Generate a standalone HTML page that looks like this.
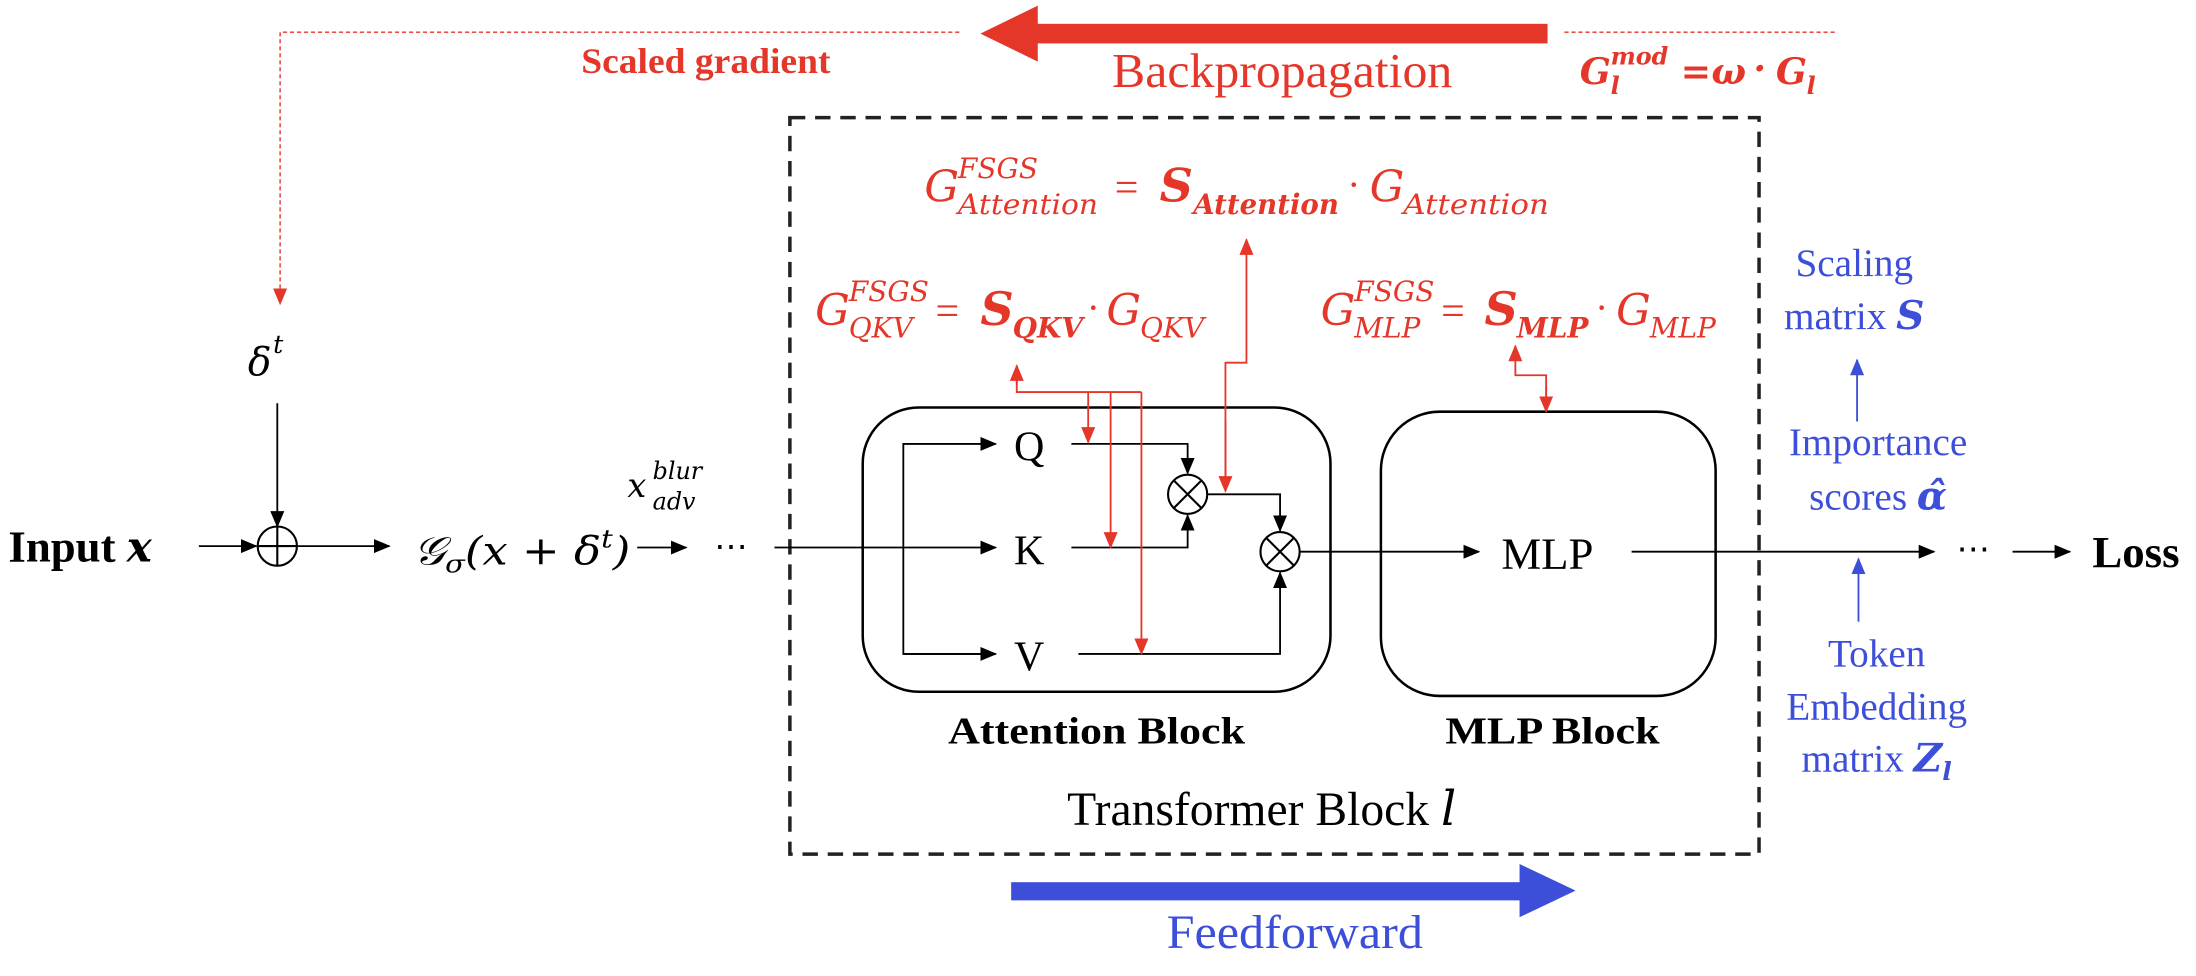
<!DOCTYPE html>
<html><head><meta charset="utf-8"><style>
html,body{margin:0;padding:0;background:#fff;}
svg{display:block;}
text{font-family:"Liberation Serif",serif;}
.m{font-family:"DejaVu Serif","Liberation Serif",serif;font-style:italic;}
.r{fill:#e5362a;}
.b{fill:#3d4fd9;}
</style></head><body>
<svg width="2196" height="976" viewBox="0 0 1568 697" preserveAspectRatio="none" xmlns="http://www.w3.org/2000/svg">
<defs>
<marker id="ak" markerUnits="userSpaceOnUse" markerWidth="12" markerHeight="10" refX="11" refY="5" orient="auto"><path d="M0,0 L12,5 L0,10 z" fill="#000"/></marker>
<marker id="ar" markerUnits="userSpaceOnUse" markerWidth="12" markerHeight="10" refX="11" refY="5" orient="auto"><path d="M0,0 L12,5 L0,10 z" fill="#e5362a"/></marker>
<marker id="ab" markerUnits="userSpaceOnUse" markerWidth="12" markerHeight="10" refX="11" refY="5" orient="auto"><path d="M0,0 L12,5 L0,10 z" fill="#3d4fd9"/></marker>
</defs>

<path d="M685,23 H200 V217" fill="none" stroke="#e5362a" stroke-width="1" stroke-dasharray="3,2" marker-end="url(#ar)"/>
<line x1="1117" y1="23" x2="1312" y2="23" stroke="#e5362a" stroke-width="1" stroke-dasharray="3,2"/>
<rect x="740" y="17" width="365" height="14" fill="#e5362a"/>
<polygon points="700,24 741,4 741,44" fill="#e5362a"/>
<text x="415" y="52" class="r" font-size="26" font-weight="bold" textLength="178" lengthAdjust="spacingAndGlyphs">Scaled gradient</text>
<text x="794" y="62" class="r" font-size="35" textLength="243" lengthAdjust="spacingAndGlyphs">Backpropagation</text>
<text class="m r" font-weight="bold" font-size="26" x="1128" y="60">G</text>
<text class="m r" font-weight="bold" font-size="17" x="1150" y="46">mod</text>
<text class="m r" font-weight="bold" font-size="17" x="1150" y="67">l</text>
<text class="m r" font-weight="bold" font-size="26" x="1200" y="60">=</text>
<text class="m r" font-weight="bold" font-size="26" x="1222" y="60">ω</text>
<text class="m r" font-weight="bold" font-size="26" x="1252" y="58">·</text>
<text class="m r" font-weight="bold" font-size="26" x="1268" y="60">G</text>
<text class="m r" font-weight="bold" font-size="17" x="1290" y="67">l</text>

<rect x="564" y="84" width="692" height="526" fill="none" stroke="#222" stroke-width="2.5" stroke-dasharray="11,7"/>

<text class="m r" font-size="31" x="660" y="144">G</text>
<text class="m r" font-size="20" x="684" y="127">FSGS</text>
<text class="m r" font-size="20" x="684" y="153" textLength="100" lengthAdjust="spacingAndGlyphs">Attention</text>
<text class="r" font-size="30" x="796" y="144">=</text>
<text class="m r" font-size="33" font-weight="bold" x="828" y="144">S</text>
<text class="m r" font-size="20" font-weight="bold" x="852" y="153" textLength="104" lengthAdjust="spacingAndGlyphs">Attention</text>
<text class="r" font-size="28" x="962" y="141">·</text>
<text class="m r" font-size="31" x="978" y="144">G</text>
<text class="m r" font-size="20" x="1002" y="153" textLength="104" lengthAdjust="spacingAndGlyphs">Attention</text>

<text class="m r" font-size="31" x="582" y="232">G</text>
<text class="m r" font-size="20" x="606" y="215">FSGS</text>
<text class="m r" font-size="20" x="606" y="241">QKV</text>
<text class="r" font-size="30" x="668" y="232">=</text>
<text class="m r" font-size="33" font-weight="bold" x="700" y="232">S</text>
<text class="m r" font-size="20" font-weight="bold" x="723" y="241">QKV</text>
<text class="r" font-size="28" x="776" y="229">·</text>
<text class="m r" font-size="31" x="790" y="232">G</text>
<text class="m r" font-size="20" x="814" y="241">QKV</text>

<text class="m r" font-size="31" x="943" y="232">G</text>
<text class="m r" font-size="20" x="967" y="215">FSGS</text>
<text class="m r" font-size="20" x="967" y="241">MLP</text>
<text class="r" font-size="30" x="1029" y="232">=</text>
<text class="m r" font-size="33" font-weight="bold" x="1060" y="232">S</text>
<text class="m r" font-size="20" font-weight="bold" x="1083" y="241">MLP</text>
<text class="r" font-size="28" x="1139" y="229">·</text>
<text class="m r" font-size="31" x="1154" y="232">G</text>
<text class="m r" font-size="20" x="1178" y="241">MLP</text>

<rect x="616" y="291" width="334" height="203" rx="40" fill="none" stroke="#000" stroke-width="1.8"/>
<rect x="986" y="294" width="239" height="203" rx="42" fill="none" stroke="#000" stroke-width="1.8"/>

<text x="6" y="401" font-size="32" font-weight="bold">Input <tspan class="m" font-size="30">x</tspan></text>
<line x1="142" y1="390" x2="183" y2="390" stroke="#000" stroke-width="1.3" marker-end="url(#ak)"/>
<circle cx="198" cy="390" r="14" fill="none" stroke="#000" stroke-width="1.5"/>
<line x1="184" y1="390" x2="212" y2="390" stroke="#000" stroke-width="1.5"/>
<line x1="198" y1="376" x2="198" y2="404" stroke="#000" stroke-width="1.5"/>
<text class="m" font-size="28" x="177" y="268">δ</text>
<text class="m" font-size="18" x="195" y="252">t</text>
<line x1="198" y1="288" x2="198" y2="376" stroke="#000" stroke-width="1.3" marker-end="url(#ak)"/>
<line x1="212" y1="390" x2="278" y2="390" stroke="#000" stroke-width="1.3" marker-end="url(#ak)"/>
<text class="m" font-size="28" x="295" y="403" textLength="155" lengthAdjust="spacingAndGlyphs">𝒢<tspan font-size="18" dy="6">σ</tspan><tspan dy="-6">(x + δ</tspan><tspan font-size="18" dy="-12">t</tspan><tspan dy="12">)</tspan></text>
<line x1="455" y1="391" x2="490" y2="391" stroke="#000" stroke-width="1.3" marker-end="url(#ak)"/>
<text class="m" font-size="24" x="448" y="355">x</text>
<text class="m" font-size="17" x="466" y="342">blur</text>
<text class="m" font-size="17" x="466" y="364">adv</text>
<text x="510" y="398" font-size="24">⋯</text>
<line x1="553" y1="391" x2="711" y2="391" stroke="#000" stroke-width="1.3" marker-end="url(#ak)"/>
<path d="M710,317 H645 V467 H710" fill="none" stroke="#000" stroke-width="1.3"/>
<line x1="645" y1="317" x2="711" y2="317" stroke="#000" stroke-width="1.3" marker-end="url(#ak)"/>
<line x1="645" y1="467" x2="711" y2="467" stroke="#000" stroke-width="1.3" marker-end="url(#ak)"/>
<text x="724" y="329" font-size="30">Q</text>
<text x="724" y="403" font-size="30">K</text>
<text x="724" y="479" font-size="30">V</text>

<path d="M765,317 H848 V338" fill="none" stroke="#000" stroke-width="1.3" marker-end="url(#ak)"/>
<path d="M765,391 H848 V368" fill="none" stroke="#000" stroke-width="1.3" marker-end="url(#ak)"/>
<circle cx="848" cy="353" r="14" fill="none" stroke="#000" stroke-width="1.5"/>
<path d="M838,343 L858,363 M858,343 L838,363" stroke="#000" stroke-width="1.5"/>
<path d="M862,353 H914 V379" fill="none" stroke="#000" stroke-width="1.3" marker-end="url(#ak)"/>
<path d="M770,467 H914 V409" fill="none" stroke="#000" stroke-width="1.3" marker-end="url(#ak)"/>
<circle cx="914" cy="394" r="14" fill="none" stroke="#000" stroke-width="1.5"/>
<path d="M904,384 L924,404 M924,384 L904,404" stroke="#000" stroke-width="1.5"/>
<line x1="928" y1="394" x2="1056" y2="394" stroke="#000" stroke-width="1.3" marker-end="url(#ak)"/>
<text x="1072" y="406" font-size="32">MLP</text>
<line x1="1165" y1="394" x2="1381" y2="394" stroke="#000" stroke-width="1.3" marker-end="url(#ak)"/>
<text x="1397" y="400" font-size="24">⋯</text>
<line x1="1437" y1="394" x2="1478" y2="394" stroke="#000" stroke-width="1.3" marker-end="url(#ak)"/>
<text x="1494" y="405" font-size="32" font-weight="bold">Loss</text>

<path d="M726,262 V280 H815" fill="none" stroke="#e5362a" stroke-width="1.3"/>
<line x1="726" y1="275" x2="726" y2="261" stroke="#e5362a" stroke-width="1.3" marker-end="url(#ar)"/>
<line x1="777" y1="280" x2="777" y2="316" stroke="#e5362a" stroke-width="1.3" marker-end="url(#ar)"/>
<line x1="793" y1="280" x2="793" y2="391" stroke="#e5362a" stroke-width="1.3" marker-end="url(#ar)"/>
<line x1="815" y1="280" x2="815" y2="467" stroke="#e5362a" stroke-width="1.3" marker-end="url(#ar)"/>
<path d="M875,350 V259 H890 V171" fill="none" stroke="#e5362a" stroke-width="1.3" marker-end="url(#ar)"/>
<line x1="875" y1="300" x2="875" y2="351" stroke="#e5362a" stroke-width="1.3" marker-end="url(#ar)"/>
<path d="M1104,293 V268 H1082 V247" fill="none" stroke="#e5362a" stroke-width="1.3" marker-end="url(#ar)"/>
<line x1="1104" y1="275" x2="1104" y2="294" stroke="#e5362a" stroke-width="1.3" marker-end="url(#ar)"/>

<text x="677" y="531" font-size="27" font-weight="bold" textLength="212" lengthAdjust="spacingAndGlyphs">Attention Block</text>
<text x="1032" y="531" font-size="27" font-weight="bold" textLength="153" lengthAdjust="spacingAndGlyphs">MLP Block</text>
<text x="762" y="589" font-size="34">Transformer Block <tspan class="m">l</tspan></text>

<rect x="722" y="630" width="365" height="13" fill="#3d4fd9"/>
<polygon points="1125,636 1085,617 1085,655" fill="#3d4fd9"/>
<text x="833" y="677" class="b" font-size="34" textLength="183" lengthAdjust="spacingAndGlyphs">Feedforward</text>

<text x="1324" y="197" class="b" font-size="28" text-anchor="middle">Scaling</text>
<text x="1324" y="235" class="b" font-size="28" text-anchor="middle">matrix <tspan class="m" font-weight="bold">S</tspan></text>
<line x1="1326" y1="301" x2="1326" y2="257" stroke="#3d4fd9" stroke-width="1.3" marker-end="url(#ab)"/>
<text x="1341" y="325" class="b" font-size="28" text-anchor="middle">Importance</text>
<text x="1341" y="364" class="b" font-size="28" text-anchor="middle">scores <tspan class="m" font-weight="bold">α̂</tspan></text>
<line x1="1327" y1="444" x2="1327" y2="399" stroke="#3d4fd9" stroke-width="1.3" marker-end="url(#ab)"/>
<text x="1340" y="476" class="b" font-size="28" text-anchor="middle">Token</text>
<text x="1340" y="514" class="b" font-size="28" text-anchor="middle">Embedding</text>
<text x="1340" y="551" class="b" font-size="28" text-anchor="middle">matrix <tspan class="m" font-weight="bold">Z</tspan><tspan class="m" font-weight="bold" font-size="18" dy="6">l</tspan></text>
</svg>
</body></html>
